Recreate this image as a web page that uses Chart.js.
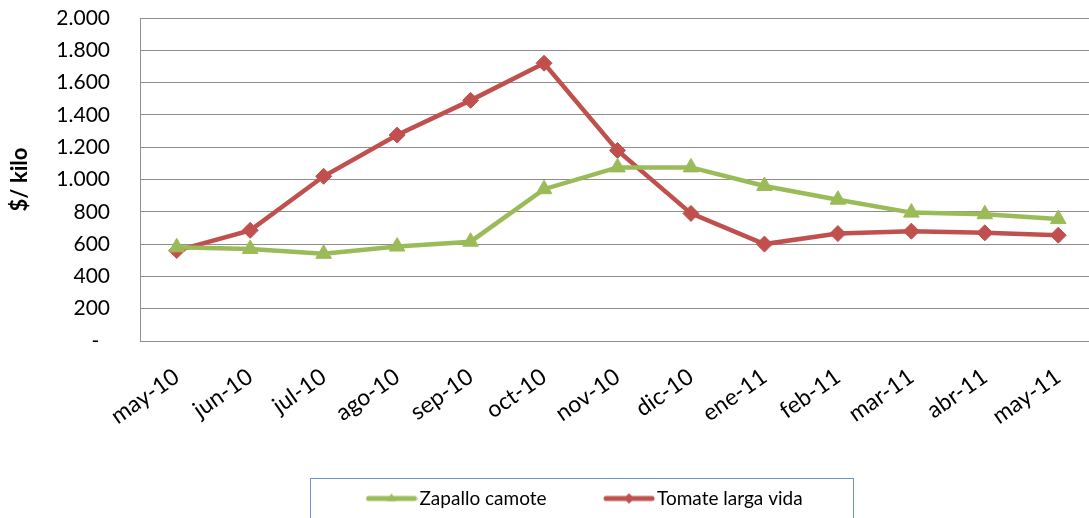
<!DOCTYPE html>
<html>
<head>
<meta charset="utf-8">
<script src="https://cdn.jsdelivr.net/npm/chart.js@4.4.1/dist/chart.umd.min.js"></script>
<style>
  html, body { margin: 0; padding: 0; background: #fff; overflow: hidden; }
  /* the plot runs a few pixels past the right edge, as in the original */
  #wrap { width: 1089px; height: 518px; overflow: hidden; }
</style>
</head>
<body>
<div id="wrap"><canvas id="c" width="1095" height="518"></canvas></div>
<script>
// months on the x axis
const months = ['may-10', 'jun-10', 'jul-10', 'ago-10', 'sep-10', 'oct-10', 'nov-10',
  'dic-10', 'ene-11', 'feb-11', 'mar-11', 'abr-11', 'may-11'];
// $/kilo
const zapalloCamote = [580, 570, 540, 585, 615, 940, 1075, 1075, 960, 875, 795, 785, 755];
const tomateLargaVida = [560, 685, 1020, 1275, 1490, 1720, 1180, 790, 600, 665, 680, 670, 655];
const yTickLabels = ['-  ', '200', '400', '600', '800', '1.000', '1.200', '1.400', '1.600', '1.800', '2.000'];

const GREEN = '#9BBB59';
const RED = '#C0504D';
const GRID = '#8E8E8E';
const FONT = 'Lato, "Liberation Sans", sans-serif';
const LEGEND_GAP = 64;

// legend swatch: short line with a small marker in the middle
function swatch(color, style) {
  const cv = document.createElement('canvas');
  cv.width = 52; cv.height = 14;
  const ctx = cv.getContext('2d');
  ctx.strokeStyle = color; ctx.lineWidth = 5; ctx.lineCap = 'round';
  ctx.beginPath(); ctx.moveTo(3, 7); ctx.lineTo(49, 7); ctx.stroke();
  ctx.fillStyle = color;
  Chart.helpers.drawPoint(ctx, { pointStyle: style, radius: 5, borderWidth: 0, rotation: 0 }, 26, 7);
  ctx.fill();
  return cv;
}

// frame round the legend, like the spreadsheet one
const legendFrame = {
  id: 'legendFrame',
  afterLayout(chart) {
    const lg = chart.legend;
    // centre the legend row on the frame rather than on the canvas
    lg.left = 0;
    lg.right = 2 * 373 + lg.lineWidths[0] - LEGEND_GAP;
    lg.width = lg.right;
  },
  afterDraw(chart) {
    const ctx = chart.ctx;
    ctx.save();
    ctx.strokeStyle = '#6F93C4';
    ctx.lineWidth = 1;
    ctx.strokeRect(310.5, 478.5, 543, 60);
    ctx.restore();
  }
};

new Chart(document.getElementById('c'), {
  type: 'line',
  data: {
    labels: months,
    datasets: [
      {
        label: 'Zapallo camote', data: zapalloCamote,
        borderColor: GREEN, backgroundColor: GREEN, borderWidth: 4.5,
        pointStyle: 'triangle', pointRadius: 9, pointBorderWidth: 1,
        pointBackgroundColor: GREEN, pointBorderColor: GREEN, tension: 0
      },
      {
        label: 'Tomate larga vida', data: tomateLargaVida,
        borderColor: RED, backgroundColor: RED, borderWidth: 4.5,
        pointStyle: 'rectRot', pointRadius: 8, pointBorderWidth: 1,
        pointBackgroundColor: RED, pointBorderColor: RED, tension: 0
      }
    ]
  },
  options: {
    responsive: false,
    animation: false,
    layout: { autoPadding: false, padding: { top: 18, right: 0, left: 0, bottom: 0 } },
    scales: {
      x: {
        offset: true,
        grid: { display: false, drawTicks: false },
        border: { color: GRID, width: 1 },
        ticks: {
          color: '#000', font: { family: FONT, size: 23 },
          minRotation: 35, maxRotation: 35, autoSkip: false, padding: 22
        },
        afterFit(s) { s.height = 84; s.paddingRight = 0; }
      },
      y: {
        min: 0, max: 2000,
        // invisible tick marks push the labels away from the axis
        grid: { color: GRID, lineWidth: 1, drawTicks: true, tickLength: 30, tickColor: 'rgba(0,0,0,0)' },
        border: { color: GRID, width: 1 },
        ticks: {
          stepSize: 200, color: '#000', padding: 0,
          font: { family: FONT, size: 21 },
          callback: (v) => yTickLabels[Math.round(v / 200)]
        },
        title: {
          display: true, text: '$/ kilo', color: '#000',
          font: { family: FONT, size: 22, weight: 'bold' }, padding: { top: 7, bottom: 0 }
        },
        afterFit(s) { s.width = 140; }
      }
    },
    plugins: {
      legend: {
        position: 'bottom',
        labels: {
          color: '#000', font: { family: FONT, size: 19 },
          usePointStyle: true, pointStyleWidth: 37, padding: LEGEND_GAP,
          generateLabels(chart) {
            return chart.data.datasets.map((ds, i) => ({
              text: ds.label, datasetIndex: i,
              pointStyle: swatch(ds.borderColor, ds.pointStyle),
              fillStyle: ds.borderColor, strokeStyle: ds.borderColor, lineWidth: 0, hidden: false
            }));
          }
        }
      },
      tooltip: { enabled: false }
    }
  },
  plugins: [legendFrame]
});
</script>
</body>
</html>
